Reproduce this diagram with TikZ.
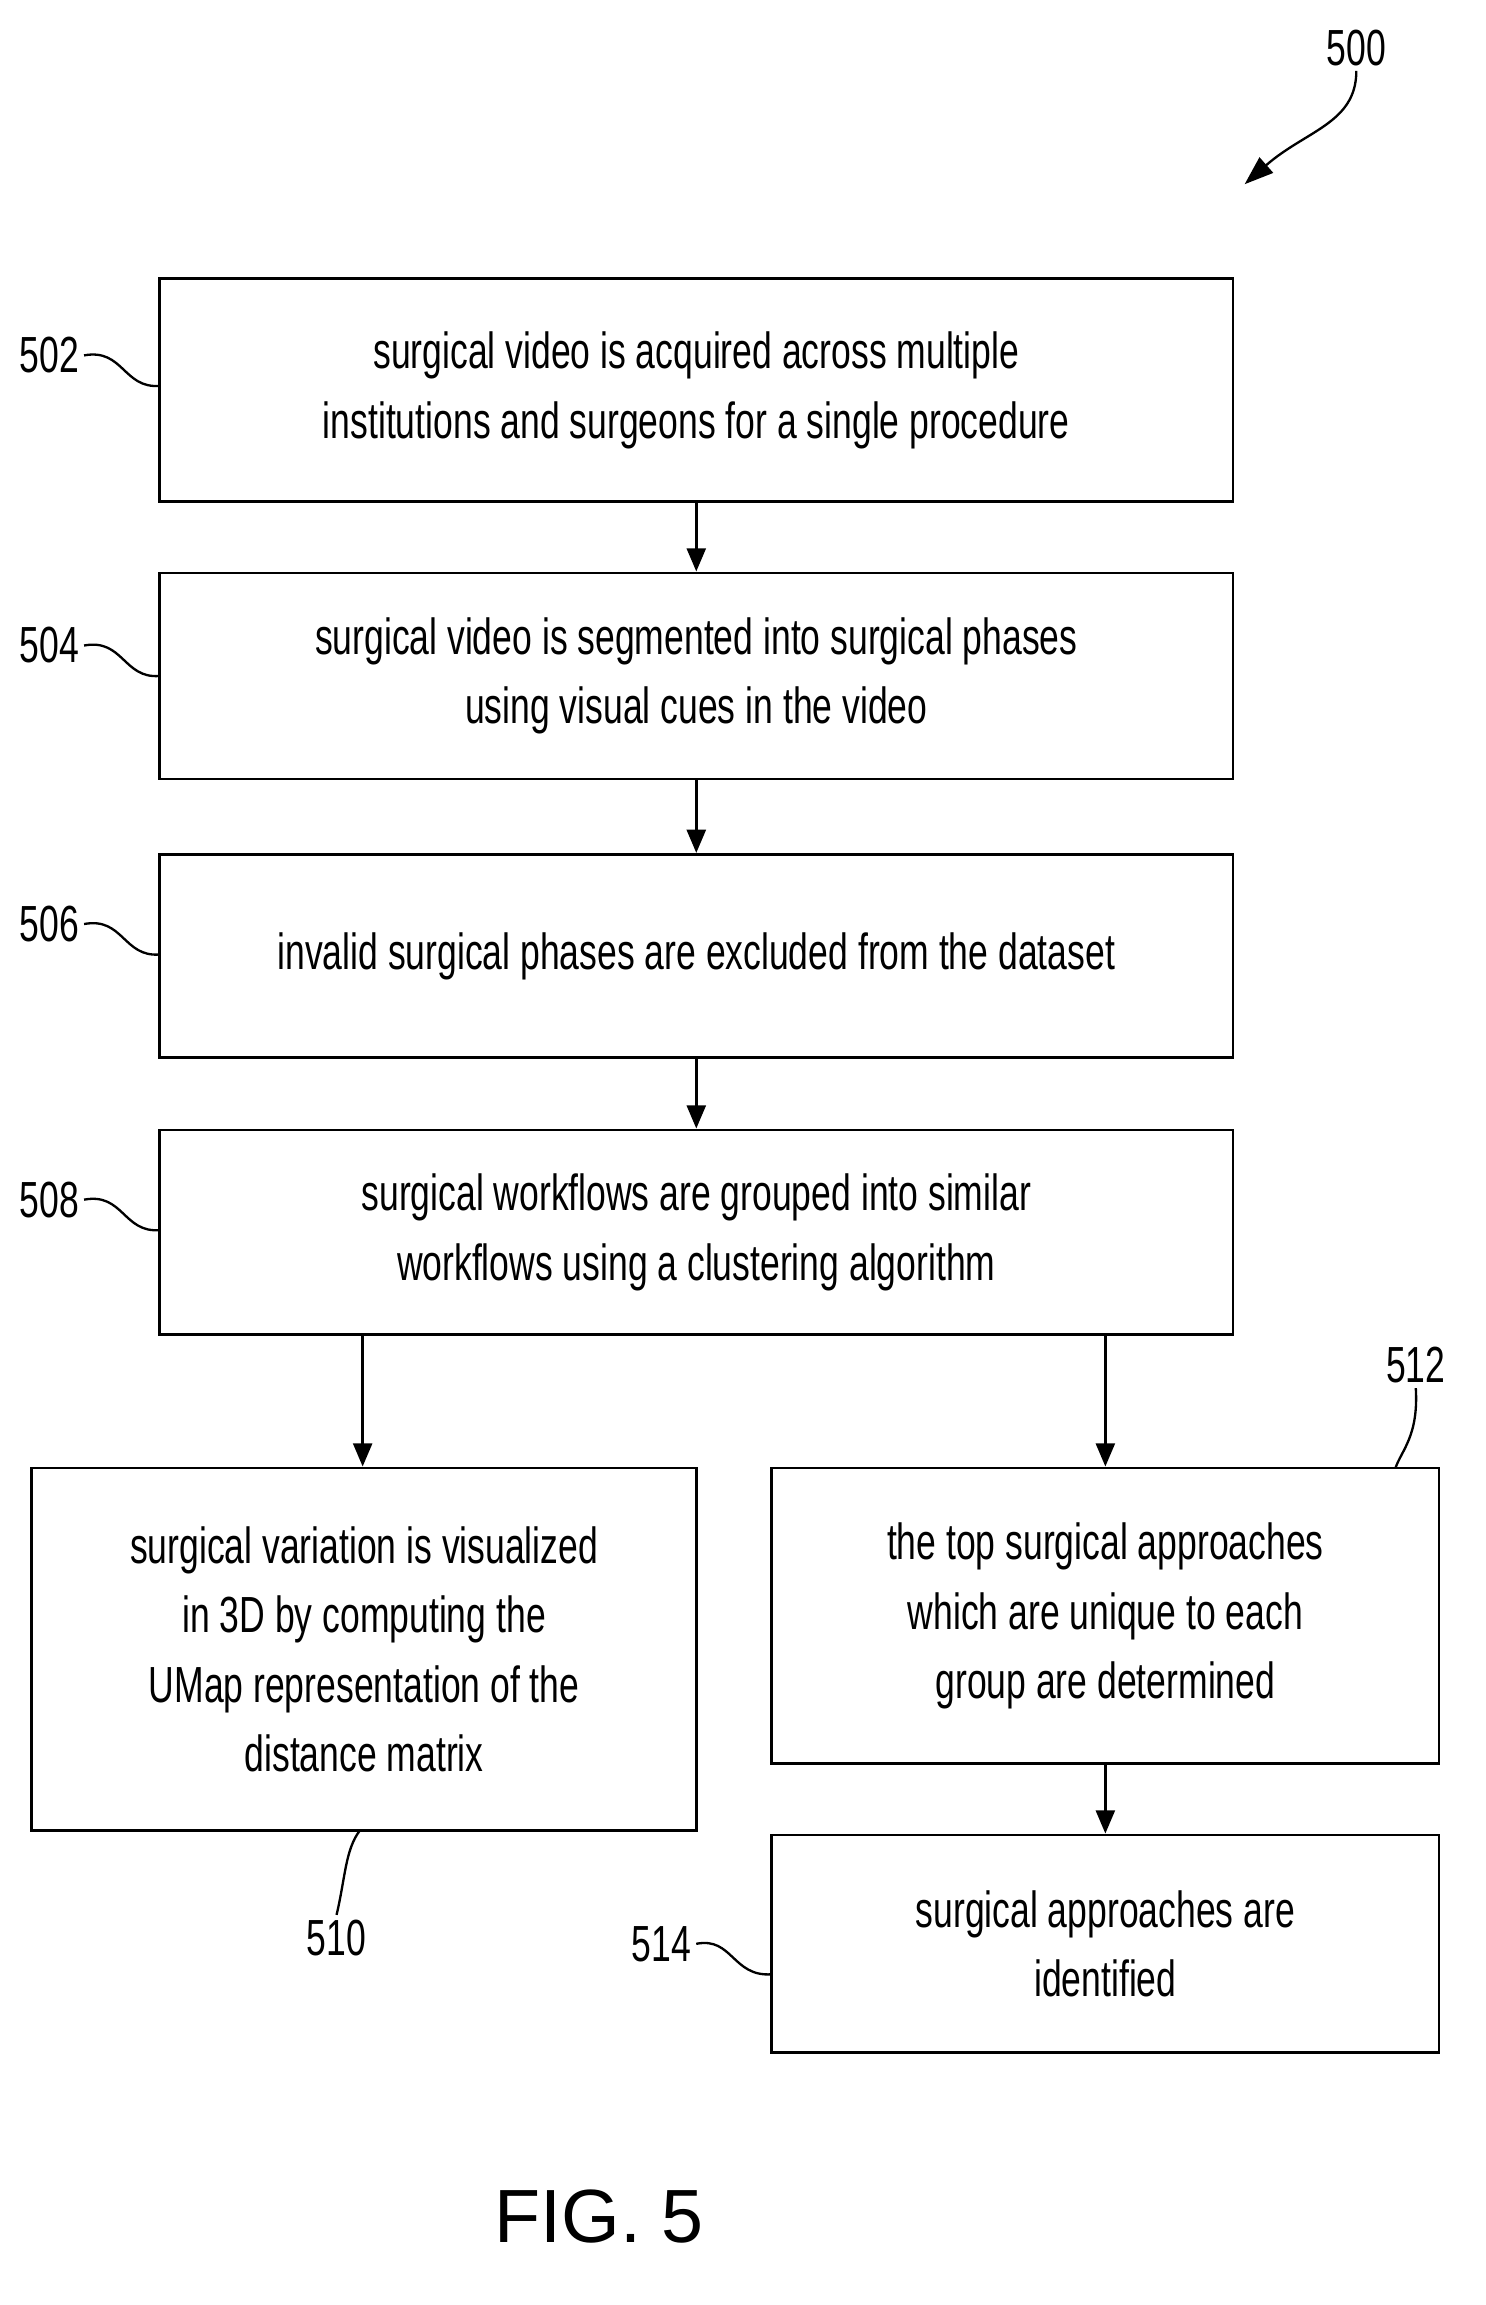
\documentclass[tikz,border=0pt]{standalone}
\usepackage{fontspec}
\setmainfont{Liberation Sans}[FakeStretch=0.7]
\newfontfamily\figfont{Liberation Sans}
\usetikzlibrary{arrows.meta}
\begin{document}
\begin{tikzpicture}[x=1pt,y=-1pt,
 box/.style={draw,line width=2pt,align=center,font=\fontsize{35}{48}\selectfont},
 arr/.style={line width=2pt,-{Triangle[length=16pt,width=13pt]}},
 lbl/.style={font=\fontsize{35}{38}\selectfont},
 sq/.style={line width=1.6pt}]
\useasboundingbox (0,0) rectangle (1024,1589);
\def\bx#1#2#3#4#5#6{\node[box,minimum width=#4-#2 pt,minimum height=#5-#3 pt,inner sep=0] (#1) at ({(#2+#4)/2},{(#3+#5)/2}) {#6};}
\bx{b502}{110}{192}{850}{346}{surgical video is acquired across multiple\\institutions and surgeons for a single procedure}
\bx{b504}{110}{395}{850}{537}{surgical video is segmented into surgical phases\\using visual cues in the video}
\bx{b506}{110}{589}{850}{729}{invalid surgical phases are excluded from the dataset}
\bx{b508}{110}{779}{850}{920}{surgical workflows are grouped into similar\\workflows using a clustering algorithm}
\bx{b510}{22}{1012}{480}{1262}{surgical variation is visualized\\in 3D by computing the\\UMap representation of the\\distance matrix}
\bx{b512}{532}{1012}{992}{1216}{the top surgical approaches\\which are unique to each\\group are determined}
\bx{b514}{532}{1265}{992}{1415}{surgical approaches are\\identified}
\draw[arr] (b502) -- (b504);
\draw[arr] (b504) -- (b506);
\draw[arr] (b506) -- (b508);
\draw[arr] (250,920) coordinate(s1) -- (s1 |- b510.north);
\draw[arr] (762,920) coordinate(s2) -- (s2 |- b512.north);
\draw[arr] (b512.south -| s2) -- (s2 |- b514.north);
% labels
\node[lbl] (l502) at (34,245) {502};
\draw[sq] (l502.east) .. controls (85,240) and (85,268) .. (110,266);
\node[lbl] (l504) at (34,445) {504};
\draw[sq] (l504.east) .. controls (85,440) and (85,468) .. (110,466);
\node[lbl] (l506) at (34,637) {506};
\draw[sq] (l506.east) .. controls (85,632) and (85,660) .. (110,658);
\node[lbl] (l508) at (34,827) {508};
\draw[sq] (l508.east) .. controls (85,822) and (85,850) .. (110,848);
\node[lbl] (l510) at (232,1336) {510};
\draw[sq] (248,1262) .. controls (238,1275) and (238,1295) .. (l510.north);
\node[lbl] (l512) at (976,941) {512};
\draw[sq] (962,1012) .. controls (966,1000) and (978,990) .. (l512.south);
\node[lbl] (l514) at (456,1340) {514};
\draw[sq] (l514.east) .. controls (505,1335) and (505,1363) .. (532,1361);
\node[lbl] (l500) at (935,33) {500};
\coordinate (t500) at (858,127);
\draw[sq,-{Triangle[length=20pt,width=14pt]}] (l500.south) .. controls (935,85) and (900,90) .. (t500);
\node[font=\figfont\fontsize{52}{60}\selectfont] (fig) at (413,1528) {FIG. 5};
\end{tikzpicture}
\end{document}
